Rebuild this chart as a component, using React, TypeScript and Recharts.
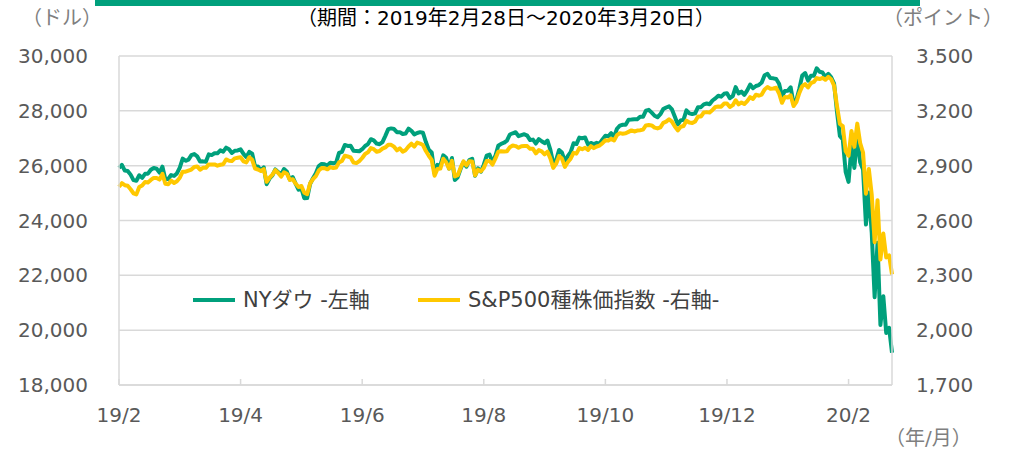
import React from "react";
import { LineChart, Line, XAxis, YAxis, CartesianGrid } from "recharts";

// daily closes, 2019/2/28 - 2020/3/20 (268 trading days)
const dowValues: number[] = [
  25916,
  // 2019/3
  26026, 25820, 25807, 25673, 25473, 25450, 25650, 25555, 25703, 25709, 25849, 25914, 25887, 25745, 25962, 25502, 25516, 25657, 25626, 25717, 25929,
  // 2019/4
  26258, 26179, 26218, 26385, 26425, 26341, 26150, 26157, 26143, 26412, 26385, 26452, 26450, 26559, 26511, 26656, 26597, 26462, 26543, 26554, 26593,
  // 2019/5
  26430, 26307, 26505, 26438, 25965, 25968, 25828, 25942, 25324, 25532, 25648, 25862, 25764, 25680, 25877, 25776, 25490, 25586, 25347, 25126, 25169, 24815,
  // 2019/6
  24820, 25332, 25540, 25720, 25984, 26062, 26048, 26005, 26107, 26090, 26112, 26465, 26504, 26753, 26720, 26727, 26548, 26537, 26526, 26600,
  // 2019/7
  26718, 26787, 26966, 26922, 26806, 26783, 26860, 27088, 27332, 27359, 27336, 27220, 27223, 27154, 27172, 27350, 27270, 27141, 27192, 27222, 27199, 26864,
  // 2019/8
  26583, 26485, 25718, 26030, 26008, 26378, 26287, 25897, 26280, 25479, 25579, 25886, 26136, 25962, 26202, 26253, 25629, 25899, 25778, 26036, 26363, 26403,
  // 2019/9
  26118, 26355, 26728, 26797, 26836, 26910, 27137, 27182, 27220, 27076, 27111, 27147, 27095, 26935, 26950, 26808, 26970, 26891, 26820, 26917,
  // 2019/10
  26573, 26078, 26201, 26573, 26478, 26164, 26347, 26497, 26817, 26787, 27024, 27001, 27026, 26770, 26827, 26788, 26833, 26806, 26958, 27091, 27071, 27186, 27046,
  // 2019/11
  27347, 27462, 27492, 27493, 27675, 27681, 27691, 27691, 27784, 27782, 28005, 28036, 27934, 27821, 27766, 27876, 28066, 28122, 28164, 28051,
  // 2019/12
  27783, 27503, 27650, 27677, 28015, 27909, 27881, 27911, 28132, 28135, 28235, 28267, 28239, 28377, 28455, 28551, 28516, 28621, 28645, 28462, 28538,
  // 2020/1
  28868, 28634, 28703, 28583, 28745, 28957, 28824, 28907, 28940, 29030, 29298, 29348, 29196, 29186, 29160, 28990, 28535, 28723, 28734, 28859, 28256,
  // 2020/2
  28400, 28808, 29291, 29380, 29103, 29277, 29276, 29551, 29424, 29398, 29232, 29348, 29220, 28992, 27961, 27081, 26957, 25767, 25409,
  // 2020/3
  26703, 25917, 27091, 26121, 25865, 23851, 25018, 23553, 21200, 23186, 20189, 21237, 19899, 20087, 19174,
];

const spxValues: number[] = [
  2784,
  2804, 2793, 2790, 2771, 2749, 2743, 2783, 2792, 2811, 2808, 2822, 2833, 2833, 2824, 2855, 2801, 2798, 2818, 2805, 2815, 2834,
  2867, 2867, 2873, 2879, 2893, 2896, 2878, 2888, 2888, 2907, 2906, 2907, 2900, 2905, 2908, 2934, 2927, 2926, 2940, 2943, 2946,
  2924, 2918, 2946, 2932, 2884, 2879, 2871, 2881, 2812, 2834, 2851, 2876, 2860, 2840, 2864, 2856, 2822, 2826, 2802, 2783, 2789, 2752,
  2744, 2803, 2826, 2843, 2873, 2887, 2886, 2880, 2892, 2887, 2890, 2918, 2926, 2954, 2950, 2945, 2917, 2914, 2925, 2942,
  2964, 2973, 2996, 2990, 2976, 2980, 2993, 3000, 3014, 3014, 3004, 2984, 2995, 2977, 2985, 3005, 3020, 3004, 3026, 3021, 3013, 2980,
  2954, 2932, 2845, 2882, 2884, 2938, 2919, 2883, 2926, 2841, 2848, 2889, 2924, 2901, 2924, 2923, 2847, 2878, 2869, 2888, 2925, 2926,
  2906, 2938, 2976, 2979, 2978, 2979, 3001, 3010, 3007, 2998, 3006, 3007, 3007, 2992, 2992, 2967, 2985, 2978, 2962, 2977,
  2940, 2888, 2911, 2952, 2939, 2893, 2919, 2938, 2970, 2966, 2996, 2990, 2998, 2986, 3007, 2996, 3005, 3010, 3023, 3039, 3037, 3047, 3038,
  3067, 3078, 3075, 3077, 3085, 3093, 3087, 3092, 3094, 3097, 3120, 3122, 3120, 3108, 3104, 3110, 3134, 3141, 3154, 3141,
  3114, 3093, 3113, 3117, 3146, 3136, 3133, 3142, 3169, 3169, 3191, 3193, 3191, 3205, 3221, 3224, 3223, 3240, 3240, 3221, 3231,
  3258, 3235, 3246, 3237, 3253, 3275, 3265, 3288, 3283, 3289, 3317, 3330, 3321, 3322, 3326, 3295, 3244, 3276, 3273, 3284, 3226,
  3249, 3298, 3335, 3346, 3328, 3352, 3358, 3379, 3374, 3380, 3370, 3386, 3373, 3338, 3226, 3128, 3116, 2979, 2954,
  3090, 3003, 3130, 3024, 2972, 2747, 2882, 2741, 2481, 2711, 2386, 2529, 2398, 2409, 2305,
];

const tickIndex = [0, 42, 84, 126, 168, 210, 252];
const tickLabels = ["19/2", "19/4", "19/6", "19/8", "19/10", "19/12", "20/2"];
const leftTicks = [18000, 20000, 22000, 24000, 26000, 28000, 30000];
const rightTicks = [1700, 2000, 2300, 2600, 2900, 3200, 3500];
const seriesNames = ["NYダウ -左軸", "S&P500種株価指数 -右軸-"];

const GREEN = "#00A07C";
const YELLOW = "#FFC800";
const GRID = "#d9d9d9";
const FONT = "'DejaVu Sans', 'Noto Sans CJK JP', sans-serif";

const data = dowValues.map((v, i) => ({ i, dow: v, spx: spxValues[i] }));

const fmt = (v: number) => v.toLocaleString("en-US");

function LegendBox() {
  const colors = [GREEN, YELLOW];
  const lefts = [193, 418];
  return (
    <>
      {seriesNames.map((name, k) => (
        <div
          key={name}
          style={{
            position: "absolute",
            left: lefts[k],
            top: 289,
            display: "flex",
            alignItems: "center",
            fontFamily: FONT,
            fontSize: 21,
            lineHeight: "22px",
            color: "#404040",
            whiteSpace: "nowrap",
          }}
        >
          <svg width={42} height={10} style={{ marginRight: 8 }}>
            <line x1={0} y1={5} x2={42} y2={5} stroke={colors[k]} strokeWidth={4} />
          </svg>
          <span>{name}</span>
        </div>
      ))}
    </>
  );
}

export default function App() {
  const unitStyle: React.CSSProperties = {
    position: "absolute",
    fontFamily: FONT,
    fontSize: 20,
    color: "#7f7f7f",
    lineHeight: "20px",
    whiteSpace: "nowrap",
  };
  return (
    <div style={{ position: "absolute", left: 0, top: 0, width: 1015, height: 451, background: "#fff", overflow: "hidden" }}>
      <div style={{ position: "absolute", left: 95, top: 0, width: 825, height: 6, background: GREEN }} />
      <div
        style={{
          position: "absolute",
          left: 206,
          top: 8,
          width: 600,
          textAlign: "center",
          fontFamily: FONT,
          fontSize: 20,
          lineHeight: "20px",
          color: "#000",
        }}
      >
        （期間：2019年2月28日～2020年3月20日）
      </div>
      <div style={{ ...unitStyle, left: 22, top: 8 }}>（ドル）</div>
      <div style={{ ...unitStyle, left: 883, top: 8 }}>（ポイント）</div>
      <div style={{ ...unitStyle, left: 885, top: 428 }}>（年/月）</div>
      <LineChart width={1015} height={451} data={data} margin={{ top: 56, right: 23, bottom: 16, left: 39 }}>
        <CartesianGrid yAxisId="left" vertical={false} stroke={GRID} strokeWidth={1.5} />
        <XAxis
          dataKey="i"
          type="number"
          domain={[0, 267]}
          ticks={tickIndex}
          tickFormatter={(v: number) => tickLabels[tickIndex.indexOf(v)]}
          height={50}
          stroke={GRID}
          strokeWidth={1.5}
          tickSize={-6}
          tickMargin={29}
          tick={{ fill: "#595959", fontSize: 20, fontFamily: FONT }}
        />
        <YAxis
          yAxisId="left"
          orientation="left"
          width={80}
          domain={[18000, 30000]}
          ticks={leftTicks}
          tickFormatter={fmt}
          stroke={GRID}
          strokeWidth={1.5}
          tickLine={false}
          tickMargin={25}
          tick={{ fill: "#595959", fontSize: 20, fontFamily: FONT }}
        />
        <YAxis
          yAxisId="right"
          orientation="right"
          width={100}
          domain={[1700, 3500]}
          ticks={rightTicks}
          tickFormatter={fmt}
          stroke={GRID}
          strokeWidth={1.5}
          tickLine={false}
          tickMargin={18}
          tick={{ fill: "#595959", fontSize: 20, fontFamily: FONT }}
        />
        <Line
          yAxisId="left"
          dataKey="dow"
          name={seriesNames[0]}
          stroke={GREEN}
          strokeWidth={4}
          dot={false}
          type="linear"
          strokeLinejoin="round"
          isAnimationActive={false}
        />
        <Line
          yAxisId="right"
          dataKey="spx"
          name={seriesNames[1]}
          stroke={YELLOW}
          strokeWidth={4}
          dot={false}
          type="linear"
          strokeLinejoin="round"
          isAnimationActive={false}
        />
      </LineChart>
      <LegendBox />
    </div>
  );
}
